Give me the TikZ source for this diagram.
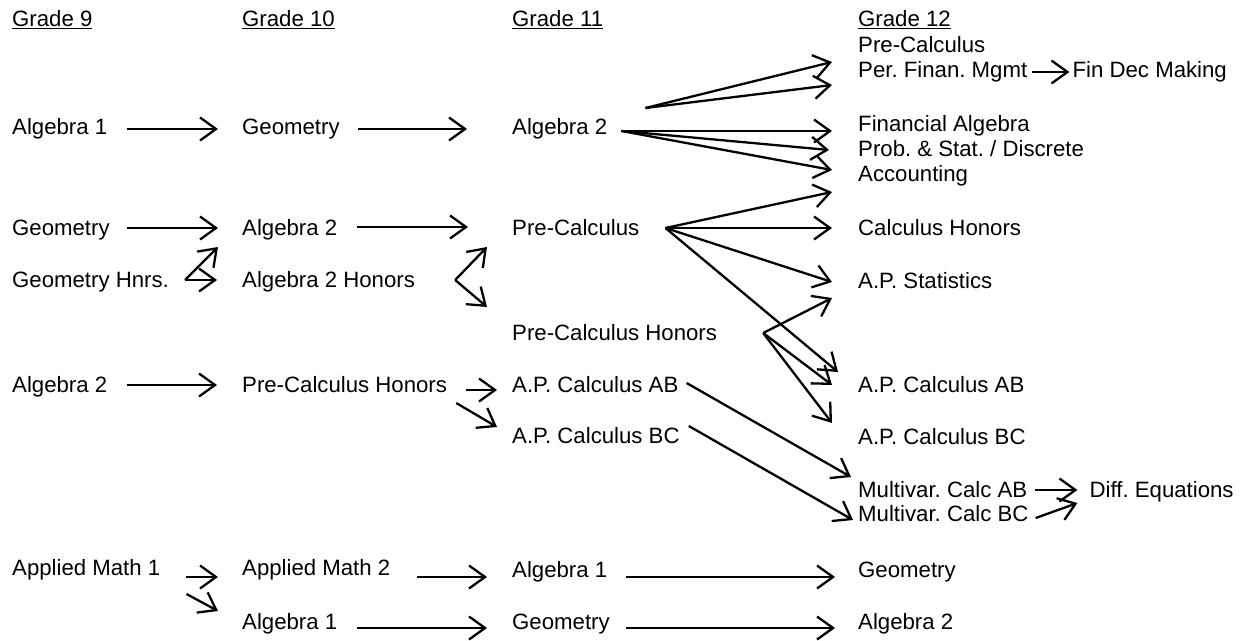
\documentclass[tikz,border=0pt]{standalone}
\usepackage{fontspec}
\setmainfont{Liberation Sans}
\usetikzlibrary{positioning, arrows.meta, calc}
\frenchspacing

\begin{document}
\begin{tikzpicture}[
    x=1pt, y=-1pt,
    course/.style={
        anchor=west,
        inner sep=0pt,
        text height=15.5pt,
        text depth=4.5pt,
        font=\fontsize{22.2}{26}\selectfont
    },
    arrow/.style={-{Straight Barb[length=16pt, width=23pt]}, line width=2.3pt}
]
\useasboundingbox (0,0) rectangle (1244,640);

% Grade headings
\node[course] (gnine)   at (12, 21)  {\underline{Grade 9}};
\node[course] (gten)    at (242, 21) {\underline{Grade 10}};
\node[course] (geleven) at (512, 21) {\underline{Grade 11}};
\node[course] (gtwelve) at (858, 21) {\underline{Grade 12}};

% Grade 9
\node[course] (alga)  at (12, 129) {Algebra 1};
\node[course] (geoa)  at (12, 230) {Geometry};
\node[course] (geoha) at (12, 282) {Geometry Hnrs.};
\node[course] (algba) at (12, 387) {Algebra 2};
\node[course] (ama)   at (12, 570) {Applied Math 1};

% Grade 10
\node[course] (geob)   at (242, 129) {Geometry};
\node[course] (algbb)  at (242, 230) {Algebra 2};
\node[course] (algbhb) at (242, 282) {Algebra 2 Honors};
\node[course] (pchb)   at (242, 387) {Pre-Calculus Honors};
\node[course] (amb)    at (242, 570) {Applied Math 2};
\node[course] (algab)  at (242, 624) {Algebra 1};

% Grade 11
\node[course] (algbc) at (512, 129) {Algebra 2};
\node[course] (pcc)   at (512, 230) {Pre-Calculus};
\node[course] (pchc)  at (512, 335) {Pre-Calculus Honors};
\node[course] (abc)   at (512, 387) {A.P. Calculus AB};
\node[course] (bcc)   at (512, 438) {A.P. Calculus BC};
\node[course] (algac) at (512, 572) {Algebra 1};
\node[course] (geoc)  at (512, 624) {Geometry};

% Grade 12
\node[course] (pcd)     at (858, 47)  {Pre-Calculus};
\node[course] (pfm)     at (858, 72)  {Per. Finan. Mgmt};
\node[course, right=45pt of pfm] (fdm) {Fin Dec Making};
\node[course] (finalg)  at (858, 126) {Financial Algebra};
\node[course] (probst)  at (858, 151) {Prob. \& Stat. / Discrete};
\node[course] (acct)    at (858, 176) {Accounting};
\node[course] (calch)   at (858, 230) {Calculus Honors};
\node[course] (apstat)  at (858, 283) {A.P. Statistics};
\node[course] (abd)     at (858, 387) {A.P. Calculus AB};
\node[course] (bcd)     at (858, 439) {A.P. Calculus BC};
\node[course] (mvab)    at (858, 492) {Multivar. Calc AB};
\node[course] (mvbc)    at (858, 516) {Multivar. Calc BC};
\node[course, right=62pt of mvab] (diffeq) {Diff. Equations};
\node[course] (geod)    at (858, 572) {Geometry};
\node[course] (algbd)   at (858, 624) {Algebra 2};

% Algebra 1 track
\draw[arrow] ($(alga.east)+(20,0)$) -- ($(geob.west)+(-24,0)$);
\draw[arrow] ($(geob.east)+(18,0)$) -- ($(algbc.west)+(-45,0)$);
\draw[arrow] ($(algbc.east)+(38,-21)$) -- ($(pcd.west)+(-26,15)$);
\draw[arrow] ($(algbc.east)+(38,-21)$) -- ($(pfm.west)+(-26,13)$);
\draw[arrow] ($(algbc.east)+(14,2)$) -- ($(finalg.west)+(-26,5)$);
\draw[arrow] ($(algbc.east)+(14,2)$) -- ($(probst.west)+(-29,-1)$);
\draw[arrow] ($(algbc.east)+(14,2)$) -- ($(acct.west)+(-26,-6)$);
\draw[arrow] ($(pfm.east)+(5,0)$) -- ($(fdm.west)+(-3,0)$);

% Geometry track
\draw[arrow] ($(geoa.east)+(17,-2)$) -- ($(algbb.west)+(-24,-2)$);
\draw[arrow] ($(algbb.east)+(20,-3)$) -- ($(pcc.west)+(-44,-3)$);
\draw[arrow] ($(geoha.east)+(16,-2)$) -- ($(algbb.west)+(-24,17)$);
\draw[arrow] ($(geoha.east)+(16,-2)$) -- ($(algbhb.west)+(-25,-2)$);
\draw[arrow] ($(algbhb.east)+(40,-2)$) -- ($(pcc.west)+(-25,17)$);
\draw[arrow] ($(algbhb.east)+(40,-2)$) -- ($(pchc.west)+(-25,-28)$);
\draw[arrow] ($(pcc.east)+(26,-2)$) -- ($(acct.west)+(-26,16)$);
\draw[arrow] ($(pcc.east)+(26,-2)$) -- ($(calch.west)+(-26,-2)$);
\draw[arrow] ($(pcc.east)+(26,-2)$) -- ($(apstat.west)+(-26,-1)$);
\draw[arrow] ($(pcc.east)+(26,-2)$) -- ($(abd.west)+(-20,-15)$);
\draw[arrow] ($(pchc.east)+(46,-2)$) -- ($(apstat.west)+(-26,15)$);
\draw[arrow] ($(pchc.east)+(46,-2)$) -- ($(abd.west)+(-26,-2)$);
\draw[arrow] ($(pchc.east)+(46,-2)$) -- ($(bcd.west)+(-26,-16)$);

% Algebra 2 track
\draw[arrow] ($(algba.east)+(20,-2)$) -- ($(pchb.west)+(-25,-2)$);
\draw[arrow] ($(pchb.east)+(19,3)$) -- ($(abc.west)+(-15,3)$);
\draw[arrow] ($(pchb.east)+(9,16)$) -- ($(bcc.west)+(-15,-11)$);
\draw[arrow] ($(abc.east)+(8,-4)$) -- ($(mvab.west)+(-7,-15)$);
\draw[arrow] ($(bcc.east)+(9,-12)$) -- ($(mvbc.west)+(-5,4)$);
\draw[arrow] ($(mvab.east)+(8,-2)$) -- ($(diffeq.west)+(-12,-2)$);
\draw[arrow] ($(mvbc.east)+(7,2)$) -- ($(diffeq.west)+(-12,11)$);

% Applied math track
\draw[arrow] ($(ama.east)+(26,7)$) -- ($(amb.west)+(-24,7)$);
\draw[arrow] ($(ama.east)+(26,24)$) -- ($(algab.west)+(-24,-13)$);
\draw[arrow] ($(amb.east)+(26,7)$) -- ($(algac.west)+(-25,5)$);
\draw[arrow] ($(algab.east)+(20,4)$) -- ($(geoc.west)+(-25,4)$);
\draw[arrow] ($(algac.east)+(19,5)$) -- ($(geod.west)+(-23,5)$);
\draw[arrow] ($(geoc.east)+(16,4)$) -- ($(algbd.west)+(-23,4)$);

\end{tikzpicture}
\end{document}
